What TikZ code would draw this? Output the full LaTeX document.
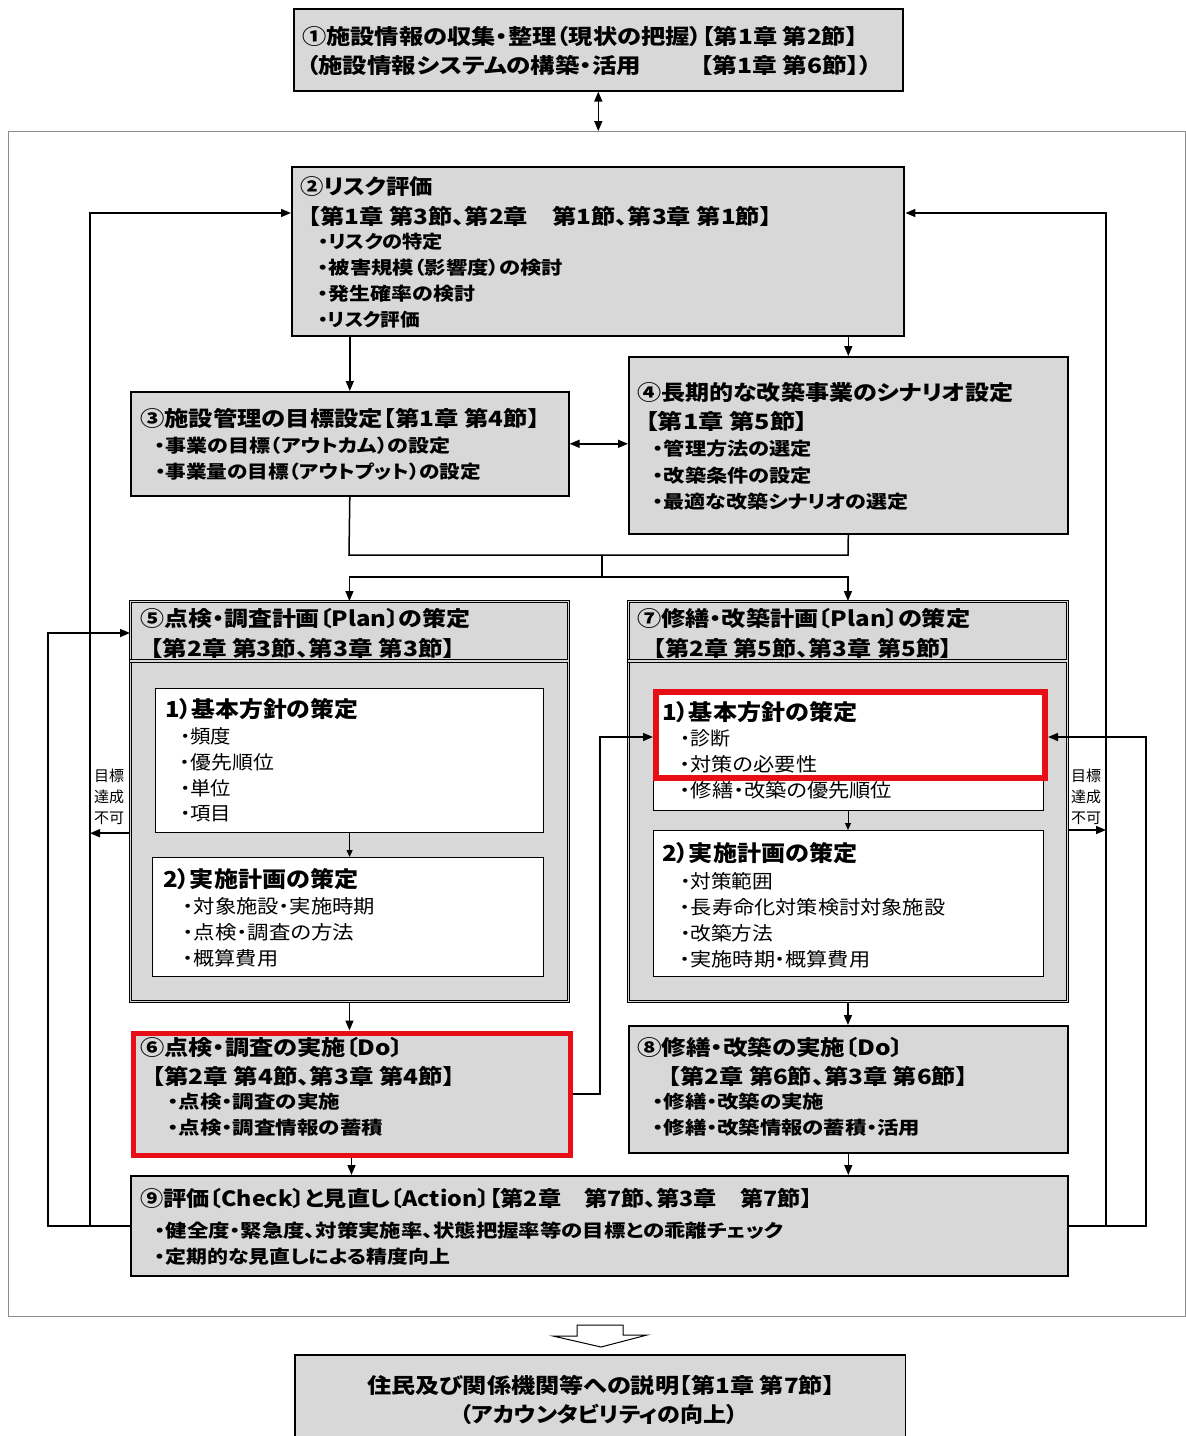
\documentclass[tikz,border=0pt]{standalone}
\usepackage{fontspec}
\usepackage{graphicx}
\usetikzlibrary{arrows.meta}
\newfontfamily\jp{Noto Sans CJK JP}[RawFeature=+palt]
\definecolor{boxgray}{RGB}{216,216,216}
\definecolor{myred}{RGB}{232,14,22}
\definecolor{framegray}{RGB}{140,140,140}
\newcommand\fw[2]{\resizebox{#1pt}{\height}{#2}}
\begin{document}
\begin{tikzpicture}[x=1pt,y=-1pt,
  gbox/.style={draw=black, fill=boxgray, line width=1.6pt, inner sep=0pt, anchor=north west},
  dbox/.style={draw=black, fill=boxgray, line width=0.9pt, double=boxgray, double distance=1.6pt, inner sep=0pt, anchor=north west},
  wbox/.style={draw=black, fill=white, line width=1.2pt, inner sep=0pt, anchor=north west},
  hd/.style={anchor=west, inner sep=0pt, font=\jp\bfseries\fontsize{21}{24}\selectfont},
  sh/.style={anchor=west, inner sep=0pt, font=\jp\bfseries\fontsize{22}{24}\selectfont},
  bl/.style={anchor=west, inner sep=0pt, font=\jp\bfseries\fontsize{18}{22}\selectfont},
  sb/.style={anchor=west, inner sep=0pt, font=\jp\fontsize{19}{22}\selectfont},
  lab/.style={align=center, inner sep=0pt, font=\jp\fontsize{15}{21}\selectfont},
  ln/.style={line width=1.5pt},
  arr/.style={line width=1.5pt, -{Triangle[length=10pt,width=8pt]}},
  arrs/.style={line width=1pt, -{Triangle[length=7pt,width=6pt]}},
  arr2/.style={line width=1.5pt, {Triangle[length=10pt,width=8pt]}-{Triangle[length=10pt,width=8pt]}}
]
\useasboundingbox (0,0) rectangle (1186,1436);

% ---------- boxes ----------
\node[gbox, minimum width=609pt, minimum height=82pt] (b1) at (293,8) {};
\node[draw=framegray, line width=0.8pt, inner sep=0pt, anchor=north west, minimum width=1177pt, minimum height=1185pt] (fr) at (8,131) {};
\node[gbox, line width=2.4pt, minimum width=612pt, minimum height=169pt] (b2) at (291,166) {};
\node[gbox, minimum width=438pt, minimum height=104pt] (b3) at (130,391) {};
\node[gbox, minimum width=439pt, minimum height=177pt] (b4) at (628,356) {};
\node[dbox, minimum width=438pt, minimum height=400pt] (b5) at (130,601) {};
\draw[line width=0.9pt, double=boxgray, double distance=1.6pt] (130,661) -- (568,661);
\node[wbox, minimum width=388pt, minimum height=144pt] (b5a) at (155,688) {};
\node[wbox, minimum width=391pt, minimum height=119pt] (b5b) at (152,857) {};
\node[dbox, minimum width=439pt, minimum height=400pt] (b7) at (628,601) {};
\draw[line width=0.9pt, double=boxgray, double distance=1.6pt] (628,661) -- (1067,661);
\node[wbox, minimum width=390pt, minimum height=120pt] (b7a) at (653,690) {};
\node[wbox, minimum width=390pt, minimum height=146pt] (b7b) at (653,830) {};
\node[gbox, draw=myred, line width=5pt, minimum width=437pt, minimum height=122pt] (b6) at (130.5,1030.5) {};
\node[gbox, minimum width=439pt, minimum height=127pt] (b8) at (628,1025) {};
\node[gbox, minimum width=937pt, minimum height=100pt] (b9) at (130,1175) {};
\node[fill=boxgray, inner sep=0pt, anchor=north west, minimum width=610pt, minimum height=90pt] (b10) at (295,1355) {};
\draw[line width=1.6pt] (b10.south west) -- (b10.north west) -- (b10.north east) -- (b10.south east);

% ---------- connectors ----------
\draw[arr2] (b1.south) -- (b1.south |- fr.north);
\draw[arr] (b2.south -| b3.north) -- (b3.north);
\draw[arr] (b2.south -| b4.north) -- (b4.north);
\draw[arr2] (b3.east) -- (b4.west |- b3.east);
\coordinate (m1) at (349,555);
\coordinate (m2) at (848,555);
\coordinate (m3) at (602,555);
\coordinate (m4) at (602,577);
\draw[ln] (b3.south) -- (m1) -- (m2) -- (b4.south);
\draw[ln] (m3) -- (m4);
\draw[arr] (m4) -| (b5.north);
\draw[arr] (m4) -| (b7.north);
\draw[arrs] (b5a.south) -- (b5a.south |- b5b.north);
\draw[arrs] (b7a.south -| 848,0) -- (b7b.north -| 848,0);
\draw[arr] (b5.south) -- (b5.south |- b6.north);
\draw[arr] (b7.south) -- (b7.south |- b8.north);
\draw[arr] (b6.south) -- (b6.south |- b9.north);
\draw[arr] (b8.south) -- (b8.south |- b9.north);

\coordinate (L1) at (90,213);
\coordinate (L3) at (48,633);
\coordinate (R1) at (1106,213);
\coordinate (R2) at (1146,737);
\coordinate (J1) at (600,737);

% red highlight in box 7
\node[draw=myred, line width=6pt, inner sep=0pt, anchor=north west, minimum width=389pt, minimum height=86pt] (r7) at (653,689) {};

\draw[arr] (b9.west) -| (L1) -- (L1 -| b2.west);
\draw[arr] (b9.west) -| (L3) -- (L3 -| b5.west);
\draw[arr] (b9.east) -| (R1) -- (R1 -| b2.east);
\draw[arr] (b9.east) -| (R2) -- (R2 -| r7.east);
\draw[arr] (b6.east) -| (J1) -- (J1 -| r7.west);
\draw[arr] (b5.west |- b5a.south) -- (L1 |- b5a.south);
\draw[arr] (b7.east |- b7b.north) -- (R1 |- b7b.north);

\node[lab] (g1) at (109,797) {目標\\達成\\不可};
\node[lab] (g2) at (1086,797) {目標\\達成\\不可};

% hollow arrow
\draw[line width=1pt, fill=white] (577,1325) -- (623,1325) -- (623,1335) -- (647,1335) -- (601,1347) -- (553,1336) -- (577,1336) -- cycle;

% ---------- texts ----------
\node[hd] (t1a) at (302,36) {\fw{556}{①施設情報の収集・整理（現状の把握）【第1章 第2節】}};
\node[hd] (t1b) at (306,65) {\makebox[566pt][l]{\fw{335}{（施設情報システムの構築・活用}\hfill\fw{172}{【第1章 第6節】）}}};

\node[hd] (t2a) at (300,187) {\fw{133}{②リスク評価}};
\node[hd] (t2b) at (308,216) {\fw{464}{【第1章 第3節、第2章　第1節、第3章 第1節】}};
\node[bl] (t2c) at (318,242) {\fw{125}{・リスクの特定}};
\node[bl] (t2d) at (318,268) {\fw{245}{・被害規模（影響度）の検討}};
\node[bl] (t2e) at (318,294) {\fw{157}{・発生確率の検討}};
\node[bl] (t2f) at (318,320) {\fw{102}{・リスク評価}};

\node[hd] (t3a) at (140,418) {\fw{400}{③施設管理の目標設定【第1章 第4節】}};
\node[bl] (t3b) at (155,446) {\fw{295}{・事業の目標（アウトカム）の設定}};
\node[bl] (t3c) at (155,472) {\fw{326}{・事業量の目標（アウトプット）の設定}};

\node[hd] (t4a) at (637,392) {\fw{376}{④長期的な改築事業のシナリオ設定}};
\node[hd] (t4b) at (645,421) {\fw{163}{【第1章 第5節】}};
\node[bl] (t4c) at (653,449) {\fw{159}{・管理方法の選定}};
\node[bl] (t4d) at (653,476) {\fw{159}{・改築条件の設定}};
\node[bl] (t4e) at (653,502) {\fw{255}{・最適な改築シナリオの選定}};

\node[hd] (t5a) at (140,619) {\fw{330}{⑤点検・調査計画〔Plan〕の策定}};
\node[hd] (t5b) at (150,648) {\fw{305}{【第2章 第3節、第3章 第3節】}};
\node[sh] (t5c) at (165,709) {\fw{193}{1）基本方針の策定}};
\node[sb] (t5d) at (180,736) {\fw{51}{・頻度}};
\node[sb] (t5e) at (180,762) {\fw{94}{・優先順位}};
\node[sb] (t5f) at (180,788) {\fw{51}{・単位}};
\node[sb] (t5g) at (180,814) {\fw{51}{・項目}};
\node[sh] (t5h) at (163,879) {\fw{195}{2）実施計画の策定}};
\node[sb] (t5i) at (183,906) {\fw{192}{・対象施設・実施時期}};
\node[sb] (t5j) at (183,932) {\fw{171}{・点検・調査の方法}};
\node[sb] (t5k) at (183,958) {\fw{95}{・概算費用}};

\node[hd] (t7a) at (637,619) {\fw{333}{⑦修繕・改築計画〔Plan〕の策定}};
\node[hd] (t7b) at (653,648) {\fw{299}{【第2章 第5節、第3章 第5節】}};
\node[sh] (t7c) at (662,712) {\fw{195}{1）基本方針の策定}};
\node[sb] (t7d) at (680,738) {\fw{50}{・診断}};
\node[sb] (t7e) at (680,764) {\fw{137}{・対策の必要性}};
\node[sb] (t7f) at (680,790) {\fw{212}{・修繕・改築の優先順位}};
\node[sh] (t7g) at (662,853) {\fw{195}{2）実施計画の策定}};
\node[sb] (t7h) at (680,881) {\fw{93}{・対策範囲}};
\node[sb] (t7i) at (680,907) {\fw{265}{・長寿命化対策検討対象施設}};
\node[sb] (t7j) at (680,933) {\fw{93}{・改築方法}};
\node[sb] (t7k) at (680,959) {\fw{190}{・実施時期・概算費用}};

\node[hd] (t6a) at (140,1048) {\fw{263}{⑥点検・調査の実施〔Do〕}};
\node[hd] (t6b) at (152,1076) {\fw{303}{【第2章 第4節、第3章 第4節】}};
\node[bl] (t6c) at (168,1102) {\fw{172}{・点検・調査の実施}};
\node[bl] (t6d) at (168,1128) {\fw{215}{・点検・調査情報の蓄積}};

\node[hd] (t8a) at (637,1048) {\fw{266}{⑧修繕・改築の実施〔Do〕}};
\node[hd] (t8b) at (668,1076) {\fw{300}{【第2章 第6節、第3章 第6節】}};
\node[bl] (t8c) at (653,1102) {\fw{171}{・修繕・改築の実施}};
\node[bl] (t8d) at (653,1128) {\fw{267}{・修繕・改築情報の蓄積・活用}};

\node[hd] (t9a) at (140,1199) {\fw{672}{⑨評価〔Check〕と見直し〔Action〕【第2章　第7節、第3章　第7節】}};
\node[bl] (t9b) at (155,1231) {\fw{628}{・健全度・緊急度、対策実施率、状態把握率等の目標との乖離チェック}};
\node[bl] (t9c) at (155,1257) {\fw{295}{・定期的な見直しによる精度向上}};

\node[hd, anchor=center] (t10a) at (601,1385) {\fw{468}{住民及び関係機関等への説明【第1章 第7節】}};
\node[hd, anchor=center] (t10b) at (599,1414) {\fw{278}{（アカウンタビリティの向上）}};

\end{tikzpicture}
\end{document}
